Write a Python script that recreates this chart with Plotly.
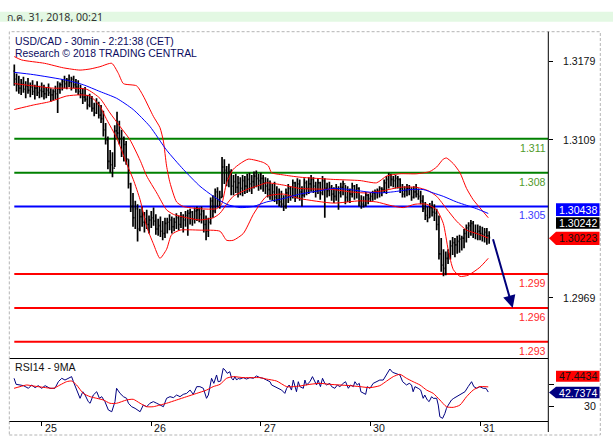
import plotly.graph_objects as go
from plotly.subplots import make_subplots

# ---------------- data ----------------
header_text = "ก.ค. 31, 2018, 00:21"
title_lines = ["USD/CAD - 30min - 2:21:38 (CET)", "Research © 2018 TRADING CENTRAL"]
rsi_title = "RSI14 - 9MA"

day_labels = ["25", "26", "27", "30", "31"]
bars_per_day = 48
first_bar = -12
first_open = 1.3170

highs = [
    1.3176, 1.3168, 1.3166, 1.3163, 1.3165, 1.3161, 1.3164, 1.3160, 1.3162, 1.3158, 1.3161, 1.3157,
    1.3160, 1.3158, 1.3156, 1.3159, 1.3155, 1.3154, 1.3157, 1.3161, 1.3160, 1.3163, 1.3166, 1.3164,
    1.3167, 1.3165, 1.3166, 1.3163, 1.3162, 1.3158, 1.3155, 1.3156, 1.3149, 1.3150, 1.3148, 1.3142,
    1.3146, 1.3143, 1.3140, 1.3135, 1.3124, 1.3112, 1.3100, 1.3098, 1.3122, 1.3134, 1.3126, 1.3118,
    1.3112, 1.3108, 1.3092, 1.3071, 1.3062, 1.3055, 1.3052, 1.3048, 1.3050, 1.3045, 1.3047, 1.3042,
    1.3046, 1.3049, 1.3043, 1.3039, 1.3041, 1.3037, 1.3040, 1.3040, 1.3043, 1.3041, 1.3040, 1.3044,
    1.3042, 1.3045, 1.3043, 1.3046, 1.3047, 1.3048, 1.3046, 1.3049, 1.3050, 1.3049, 1.3050, 1.3047,
    1.3042, 1.3040, 1.3058, 1.3060, 1.3066, 1.3067, 1.3064, 1.3094, 1.3092, 1.3086, 1.3088, 1.3083,
    1.3078, 1.3079, 1.3077, 1.3076, 1.3078, 1.3077, 1.3079, 1.3080, 1.3078, 1.3081, 1.3082, 1.3079,
    1.3080, 1.3078, 1.3076, 1.3075, 1.3073, 1.3070, 1.3072, 1.3068, 1.3066, 1.3064, 1.3060, 1.3066,
    1.3070, 1.3068, 1.3074, 1.3072, 1.3075, 1.3074, 1.3068, 1.3075, 1.3073, 1.3076, 1.3078, 1.3076,
    1.3072, 1.3075, 1.3072, 1.3077, 1.3075, 1.3071, 1.3072, 1.3069, 1.3067, 1.3070, 1.3068, 1.3071,
    1.3073, 1.3069, 1.3068, 1.3066, 1.3071, 1.3069, 1.3070, 1.3067, 1.3060, 1.3059, 1.3063, 1.3061,
    1.3062, 1.3064, 1.3065, 1.3066, 1.3068, 1.3067, 1.3074, 1.3077, 1.3080, 1.3079, 1.3077, 1.3078,
    1.3077, 1.3075, 1.3070, 1.3068, 1.3070, 1.3069, 1.3067, 1.3068, 1.3070, 1.3066, 1.3064, 1.3060,
    1.3054, 1.3050, 1.3053, 1.3055, 1.3052, 1.3048, 1.3042, 1.3022, 1.3012, 1.3010, 1.3012, 1.3020,
    1.3023, 1.3022, 1.3024, 1.3025, 1.3024, 1.3030, 1.3034, 1.3036, 1.3038, 1.3037, 1.3034, 1.3034,
    1.3033, 1.3032, 1.3031, 1.3031, 1.3028,
]
lows = [
    1.3157, 1.3152, 1.3150, 1.3149, 1.3151, 1.3146, 1.3150, 1.3147, 1.3149, 1.3145, 1.3148, 1.3146,
    1.3147, 1.3145, 1.3146, 1.3148, 1.3143, 1.3144, 1.3145, 1.3133, 1.3150, 1.3153, 1.3155, 1.3154,
    1.3156, 1.3153, 1.3155, 1.3151, 1.3149, 1.3146, 1.3141, 1.3143, 1.3136, 1.3138, 1.3134, 1.3130,
    1.3132, 1.3128, 1.3124, 1.3112, 1.3105, 1.3083, 1.3080, 1.3076, 1.3085, 1.3110, 1.3105, 1.3094,
    1.3090, 1.3087, 1.3066, 1.3045, 1.3032, 1.3030, 1.3019, 1.3028, 1.3032, 1.3027, 1.3030, 1.3026,
    1.3031, 1.3033, 1.3025, 1.3024, 1.3023, 1.3020, 1.3022, 1.3026, 1.3029, 1.3026, 1.3028, 1.3030,
    1.3029, 1.3031, 1.3027, 1.3032, 1.3024, 1.3034, 1.3033, 1.3035, 1.3037, 1.3036, 1.3035, 1.3027,
    1.3020, 1.3023, 1.3034, 1.3040, 1.3044, 1.3049, 1.3048, 1.3058, 1.3070, 1.3068, 1.3067, 1.3060,
    1.3060, 1.3062, 1.3058, 1.3060, 1.3059, 1.3061, 1.3062, 1.3063, 1.3061, 1.3066, 1.3067, 1.3064,
    1.3065, 1.3063, 1.3061, 1.3058, 1.3056, 1.3055, 1.3054, 1.3052, 1.3050, 1.3049, 1.3046, 1.3048,
    1.3053, 1.3055, 1.3057, 1.3054, 1.3057, 1.3055, 1.3050, 1.3058, 1.3060, 1.3061, 1.3063, 1.3062,
    1.3058, 1.3061, 1.3056, 1.3060, 1.3040, 1.3058, 1.3059, 1.3055, 1.3053, 1.3055, 1.3047, 1.3058,
    1.3060, 1.3052, 1.3054, 1.3053, 1.3058, 1.3056, 1.3057, 1.3050, 1.3048, 1.3049, 1.3050, 1.3052,
    1.3054, 1.3055, 1.3056, 1.3057, 1.3058, 1.3059, 1.3062, 1.3061, 1.3066, 1.3068, 1.3067, 1.3066,
    1.3066, 1.3062, 1.3058, 1.3058, 1.3059, 1.3060, 1.3055, 1.3057, 1.3058, 1.3056, 1.3052, 1.3045,
    1.3038, 1.3036, 1.3040, 1.3041, 1.3037, 1.3029, 1.3003, 1.2992, 1.2988, 1.2989, 1.2999, 1.3003,
    1.3007, 1.3005, 1.3008, 1.3009, 1.3011, 1.3013, 1.3018, 1.3022, 1.3024, 1.3022, 1.3021, 1.3020,
    1.3020, 1.3019, 1.3018, 1.3016, 1.3017,
]
closes = [
    1.3163, 1.3158, 1.3155, 1.3159, 1.3154, 1.3157, 1.3153, 1.3156, 1.3152, 1.3155, 1.3151, 1.3153,
    1.3152, 1.3150, 1.3153, 1.3151, 1.3149, 1.3152, 1.3150, 1.3154, 1.3158, 1.3161, 1.3159, 1.3162,
    1.3160, 1.3163, 1.3158, 1.3156, 1.3152, 1.3150, 1.3147, 1.3145, 1.3140, 1.3146, 1.3137, 1.3133,
    1.3141, 1.3131, 1.3128, 1.3118, 1.3109, 1.3090, 1.3087, 1.3084, 1.3117, 1.3115, 1.3110, 1.3099,
    1.3105, 1.3092, 1.3070, 1.3050, 1.3040, 1.3048, 1.3030, 1.3041, 1.3036, 1.3039, 1.3034, 1.3038,
    1.3040, 1.3037, 1.3030, 1.3033, 1.3028, 1.3026, 1.3035, 1.3036, 1.3038, 1.3032, 1.3036, 1.3040,
    1.3034, 1.3041, 1.3038, 1.3042, 1.3044, 1.3045, 1.3039, 1.3046, 1.3047, 1.3043, 1.3046, 1.3034,
    1.3028, 1.3036, 1.3055, 1.3046, 1.3063, 1.3055, 1.3058, 1.3085, 1.3082, 1.3075, 1.3081, 1.3068,
    1.3072, 1.3067, 1.3071, 1.3066, 1.3073, 1.3068, 1.3074, 1.3070, 1.3072, 1.3077, 1.3075, 1.3073,
    1.3075, 1.3071, 1.3068, 1.3065, 1.3060, 1.3063, 1.3058, 1.3056, 1.3054, 1.3052, 1.3050, 1.3062,
    1.3066, 1.3059, 1.3071, 1.3058, 1.3070, 1.3063, 1.3060, 1.3071, 1.3066, 1.3070, 1.3074, 1.3068,
    1.3064, 1.3071, 1.3062, 1.3073, 1.3066, 1.3064, 1.3067, 1.3061, 1.3059, 1.3065, 1.3062, 1.3067,
    1.3070, 1.3058, 1.3064, 1.3061, 1.3068, 1.3064, 1.3066, 1.3055, 1.3052, 1.3051, 1.3060, 1.3057,
    1.3059, 1.3062, 1.3063, 1.3064, 1.3066, 1.3065, 1.3071, 1.3074, 1.3078, 1.3074, 1.3073, 1.3075,
    1.3074, 1.3066, 1.3061, 1.3064, 1.3066, 1.3065, 1.3058, 1.3063, 1.3061, 1.3059, 1.3055, 1.3048,
    1.3042, 1.3040, 1.3049, 1.3045, 1.3044, 1.3034, 1.3008, 1.2998, 1.2995, 1.3004, 1.3008, 1.3015,
    1.3018, 1.3016, 1.3019, 1.3021, 1.3022, 1.3026, 1.3031, 1.3033, 1.3035, 1.3027, 1.3026, 1.3028,
    1.3026, 1.3025, 1.3027, 1.3024, 1.30223,
]

# Bollinger bands and moving average, read as (bar, price) vertices
bb_upper = [(-12, 1.3183), (-8.8, 1.3180), (1.3, 1.3177), (9.5, 1.3173), (16.8, 1.3171), (21.2, 1.3172),
            (25.5, 1.3174), (30.7, 1.3177), (33.6, 1.3168), (35.8, 1.3159), (41.6, 1.3157), (44.5, 1.3148),
            (48.9, 1.3130), (51.8, 1.3120), (53.3, 1.3108), (54.7, 1.3086), (56.2, 1.3071), (59.1, 1.3054),
            (62.0, 1.3050), (69.3, 1.3048), (76.6, 1.3048), (78.8, 1.3052), (81.0, 1.3071), (83.9, 1.3083),
            (86.9, 1.3088), (90.5, 1.3092), (97.1, 1.3089), (99.3, 1.3086), (100.7, 1.3080), (105.8, 1.3078),
            (113.1, 1.3076), (127.7, 1.3074), (139.4, 1.3073), (146.7, 1.3071), (151.1, 1.3077),
            (156.9, 1.3079), (164.2, 1.3079), (170.0, 1.3081), (173.0, 1.3085), (175.9, 1.3092),
            (177.3, 1.3093), (180.3, 1.3088), (183.2, 1.3080), (186.1, 1.3066), (189.0, 1.3056),
            (192.7, 1.3047), (195.6, 1.3040)]
bb_middle = [(-12, 1.3159), (-3.7, 1.3157), (5.1, 1.3155), (12.4, 1.3155), (19.7, 1.3154), (25.5, 1.3146),
             (29.9, 1.3133), (34.3, 1.3121), (38.7, 1.3109), (43.1, 1.3091), (46.0, 1.3077), (50.4, 1.3062),
             (54.7, 1.3047), (57.7, 1.3043), (63.5, 1.3040), (69.3, 1.3038), (75.2, 1.3040), (78.1, 1.3044),
             (81.0, 1.3052), (83.9, 1.3059), (89.8, 1.3065), (95.6, 1.3069), (98.5, 1.3071), (105.8, 1.3069),
             (113.1, 1.3066), (127.7, 1.3065), (135.0, 1.3063), (142.3, 1.3062), (149.6, 1.3064),
             (156.9, 1.3067), (164.2, 1.3067), (169.3, 1.3064), (173.0, 1.3059), (177.3, 1.3048),
             (181.7, 1.3037), (186.1, 1.3029), (190.5, 1.3026), (195.6, 1.3022)]
bb_lower = [(-12, 1.3136), (-3.7, 1.3140), (3.6, 1.3143), (10.9, 1.3148), (16.8, 1.3149), (21.2, 1.3148),
            (25.5, 1.3139), (28.5, 1.3127), (32.8, 1.3111), (37.2, 1.3088), (40.1, 1.3074), (43.1, 1.3056),
            (46.0, 1.3032), (48.9, 1.3017), (51.8, 1.3004), (54.7, 1.3012), (56.9, 1.3025), (60.6, 1.3029),
            (69.3, 1.3029), (78.1, 1.3028), (81.0, 1.3020), (83.9, 1.3020), (88.3, 1.3026), (92.7, 1.3043),
            (95.6, 1.3052), (98.5, 1.3059), (105.8, 1.3061), (113.1, 1.3057), (127.7, 1.3053),
            (139.4, 1.3055), (146.7, 1.3054), (152.5, 1.3051), (158.4, 1.3049), (163.5, 1.3052),
            (168.6, 1.3052), (173.0, 1.3047), (175.9, 1.3035), (178.1, 1.3011), (180.3, 1.2994),
            (183.2, 1.2988), (186.8, 1.2989), (191.9, 1.2996), (195.6, 1.3004)]
ma_blue = [(-12, 1.3169), (-3.7, 1.3167), (10.9, 1.3162), (18.2, 1.3158), (25.5, 1.3152), (32.8, 1.3146),
           (40.1, 1.3136), (47.4, 1.3121), (54.7, 1.3100), (62.0, 1.3083), (69.3, 1.3068), (75.2, 1.3059),
           (81.0, 1.3052), (86.9, 1.3049), (92.7, 1.3050), (98.5, 1.3054), (105.8, 1.3057), (113.1, 1.3061),
           (121.9, 1.3064), (127.7, 1.3066), (135.0, 1.3065), (142.3, 1.3063), (148.1, 1.3062),
           (154.0, 1.3063), (161.3, 1.3065), (167.1, 1.3065), (171.5, 1.3062), (175.9, 1.3059),
           (181.7, 1.3054), (186.1, 1.3051), (190.5, 1.3048), (195.6, 1.30438)]

# RSI(14) and its 9-period MA, (bar, value)
rsi14 = [(-12.1, 55.2), (-11.2, 49.7), (-9.5, 49.1), (-8.0, 48.5), (-5.8, 46.1), (-4.4, 49.1), (-2.9, 46.7),
         (-1.5, 48.5), (0, 46.1), (1.5, 48.5), (3.6, 46.1), (5.8, 46.1), (7.3, 52.1), (8.8, 55.2), (10.2, 53.6),
         (11.7, 55.2), (13.1, 56.7), (13.9, 52.1), (15.3, 44.5), (16.8, 37.0), (18.0, 43.0), (19.0, 40.0),
         (20.4, 34.0), (21.2, 32.5), (22.6, 40.0), (24.1, 43.0), (25.3, 37.0), (26.3, 38.5), (27.7, 34.0),
         (29.2, 26.4), (30.7, 24.8), (32.1, 34.0), (32.8, 46.1), (34.3, 41.5), (35.8, 38.5), (37.2, 37.0),
         (38.0, 32.5), (39.4, 29.4), (40.9, 27.9), (42.3, 26.4), (43.1, 24.8), (44.5, 30.9), (46.0, 29.4),
         (47.4, 32.5), (48.9, 34.0), (50.4, 32.5), (51.8, 30.9), (53.3, 29.4), (54.7, 37.0), (56.2, 38.5),
         (57.7, 37.6), (59.1, 40.0), (60.6, 38.5), (62.0, 40.6), (63.5, 41.5), (65.0, 44.5), (66.4, 40.6),
         (67.9, 47.6), (69.3, 47.6), (70.8, 46.1), (72.2, 37.0), (73.0, 40.0), (74.4, 55.2), (75.4, 50.6),
         (76.6, 58.2), (77.3, 52.1), (78.4, 52.7), (79.5, 64.2), (80.3, 62.7), (81.3, 59.7), (82.4, 61.2),
         (83.2, 55.2), (83.9, 53.6), (84.6, 56.7), (85.4, 53.6), (86.1, 55.2), (86.8, 54.5), (88.3, 55.8),
         (89.7, 54.5), (91.2, 55.8), (92.7, 55.2), (94.1, 57.3), (95.6, 55.8), (97.0, 55.2), (98.5, 53.6),
         (100.0, 52.1), (100.7, 49.1), (102.1, 47.6), (103.6, 46.1), (105.1, 44.5), (106.5, 41.5),
         (107.3, 46.1), (108.4, 49.1), (109.4, 44.5), (110.2, 53.6), (110.9, 47.6), (111.6, 43.0),
         (112.4, 52.1), (113.1, 47.6), (114.6, 46.1), (115.3, 53.6), (116.0, 49.1), (117.5, 52.1),
         (118.6, 56.7), (119.7, 52.1), (120.4, 49.1), (121.1, 53.6), (122.1, 47.6), (123.0, 55.2),
         (124.0, 50.6), (124.8, 49.1), (126.2, 50.6), (127.0, 47.6), (128.4, 46.1), (129.5, 49.1),
         (130.6, 47.6), (132.1, 50.6), (133.1, 52.1), (134.3, 46.1), (135.3, 49.1), (136.5, 47.6),
         (137.2, 52.1), (138.2, 49.1), (139.1, 50.6), (139.8, 43.0), (140.8, 41.5), (141.9, 40.6),
         (142.6, 47.6), (143.8, 46.1), (145.2, 50.6), (146.7, 52.1), (148.1, 53.6), (149.6, 53.6),
         (150.8, 58.2), (151.8, 61.2), (152.5, 63.6), (153.7, 60.6), (155.4, 59.7), (156.9, 58.2),
         (158.1, 52.1), (159.1, 50.6), (159.8, 49.1), (161.0, 50.6), (162.0, 49.1), (162.7, 43.0),
         (163.5, 47.6), (164.9, 46.1), (166.0, 44.5), (167.1, 37.0), (167.8, 40.0), (168.9, 35.5),
         (169.7, 34.0), (170.8, 38.5), (171.5, 37.0), (173.0, 37.0), (173.7, 30.9), (174.4, 20.3),
         (175.6, 18.8), (176.6, 23.3), (177.3, 27.9), (178.1, 30.9), (178.8, 34.0), (179.5, 35.5),
         (180.5, 37.0), (181.7, 38.5), (182.9, 40.0), (183.9, 40.6), (185.4, 43.0), (186.8, 47.6),
         (188.3, 52.1), (189.3, 47.6), (190.5, 46.1), (191.9, 47.6), (193.4, 46.1), (194.6, 46.1),
         (195.6, 42.7)]
rsi_ma9 = [(-12.1, 46.1), (-9.5, 47.6), (-6.6, 49.1), (-3.7, 48.2), (0.7, 47.0), (5.1, 46.1), (8.0, 49.1),
           (10.9, 52.1), (13.1, 52.7), (15.3, 49.1), (18.2, 41.5), (21.2, 38.5), (24.1, 37.0), (27.0, 35.5),
           (29.9, 32.5), (32.8, 32.5), (37.2, 35.5), (40.1, 36.1), (43.1, 32.5), (46.0, 29.4), (48.9, 29.4),
           (51.8, 30.9), (54.7, 32.5), (59.1, 35.5), (63.5, 38.5), (67.9, 41.5), (72.2, 44.5), (75.1, 47.6),
           (78.1, 49.7), (81.0, 55.2), (83.9, 56.7), (88.3, 55.8), (92.7, 55.8), (95.6, 55.8), (98.5, 54.5),
           (102.9, 52.7), (107.3, 47.6), (110.2, 47.6), (113.1, 48.2), (117.5, 49.7), (121.9, 50.6),
           (126.2, 49.7), (130.6, 49.1), (135.0, 48.5), (139.4, 47.6), (143.8, 46.7), (148.1, 48.5),
           (151.1, 52.7), (154.0, 56.7), (156.9, 58.8), (159.8, 55.2), (162.7, 52.1), (165.7, 49.1),
           (168.6, 44.5), (171.5, 41.5), (174.4, 35.5), (177.3, 29.4), (180.3, 28.8), (183.2, 30.9),
           (186.1, 38.5), (189.0, 44.5), (191.9, 47.6), (195.6, 47.4)]

resistance_levels = [1.311, 1.308]
pivot_level = 1.305
support_levels = [1.299, 1.296, 1.293]
target_level = 1.296
target_bar = 206.3

price_ticks = [1.2969, 1.3109, 1.3179]
price_tick_labels = ["1.2969", "1.3109", "1.3179"]
rsi_ticks = [30, 50]
rsi_tick_labels = ["30", ""]

last_ma_label = "1.30438"
last_bid_label = "1.30242"
last_price_label = "1.30223"
last_rsi_ma_label = "47.4434"
last_rsi_label = "42.7374"

# ---------------- geometry ----------------
W, H = 613, 444
ML, MR, MT, MB = 9, 65, 32, 23
PW, PH = W - ML - MR, H - MT - MB


def fx(px):
    return (px - ML) / PW


def fy(py):
    return (H - MB - py) / PH


rsi_frac = fy(359.3)
x_range = [-14.32, 221.77]
price_range = [1.29144, 1.32048]
rsi_range = [16.4, 72.45]
FONT = "Liberation Sans, Arial, sans-serif"
FS = 10.6
FS_TITLE = 10.4

bars = list(range(first_bar, first_bar + len(closes)))
opens = [first_open] + closes[:-1]
day_ticks = [i * bars_per_day for i in range(len(day_labels))]


def unzip(pairs):
    return [p[0] for p in pairs], [p[1] for p in pairs]


fig = make_subplots(rows=2, cols=1, shared_xaxes=True, vertical_spacing=0,
                    row_heights=[1 - rsi_frac, rsi_frac])

for band in (bb_upper, bb_middle, bb_lower):
    bx, by = unzip(band)
    fig.add_trace(go.Scatter(x=bx, y=by, mode="lines", line=dict(color="#ff0000", width=1, shape="spline", smoothing=0.6),
                             hoverinfo="skip"), row=1, col=1)
mx, my = unzip(ma_blue)
fig.add_trace(go.Scatter(x=mx, y=my, mode="lines", line=dict(color="#0000ff", width=1, shape="spline", smoothing=0.6),
                         hoverinfo="skip"), row=1, col=1)
fig.add_trace(go.Ohlc(x=bars, open=opens, high=highs, low=lows, close=closes,
                      increasing=dict(line=dict(color="black", width=1.7)),
                      decreasing=dict(line=dict(color="black", width=1.7)),
                      tickwidth=0.45, hoverinfo="skip"), row=1, col=1)

rx, ry = unzip(rsi14)
fig.add_trace(go.Scatter(x=rx, y=ry, mode="lines", line=dict(color="#000080", width=1), hoverinfo="skip"),
              row=2, col=1)
rmx, rmy = unzip(rsi_ma9)
fig.add_trace(go.Scatter(x=rmx, y=rmy, mode="lines", line=dict(color="#ff0000", width=1, shape="spline", smoothing=0.6),
                         hoverinfo="skip"), row=2, col=1)

fig.update_layout(width=W, height=H, margin=dict(l=ML, r=MR, t=MT, b=MB),
                  paper_bgcolor="white", plot_bgcolor="white", showlegend=False,
                  font=dict(family=FONT, size=FS, color="#111111"))
fig.update_xaxes(range=x_range, showgrid=False, zeroline=False, rangeslider_visible=False)
fig.update_xaxes(row=1, col=1, showticklabels=False, ticks="", showline=False)
fig.update_xaxes(row=2, col=1, tickvals=day_ticks, showticklabels=False, ticks="outside", ticklen=4,
                 tickcolor="black", showline=True, linecolor="black", linewidth=1, mirror=True)
fig.update_yaxes(row=1, col=1, side="right", range=price_range, tickvals=price_ticks, showticklabels=False,
                 ticks="outside", ticklen=4, tickcolor="black", showgrid=False, zeroline=False, showline=False)
fig.update_yaxes(row=2, col=1, side="right", range=rsi_range, tickvals=rsi_ticks, showticklabels=False,
                 ticks="outside", ticklen=5, tickcolor="black", showgrid=False, zeroline=False, showline=False)

# level lines and their labels
levels = [(lv, "#008000", "#4f9a2a") for lv in resistance_levels] + [(pivot_level, "#0000ff", "#3a3aff")] + \
         [(lv, "#ff0000", "#ff2a2a") for lv in support_levels]
for lv, lc, tc in levels:
    fig.add_shape(type="line", xref="x", yref="y", x0=bars[0], x1=x_range[1], y0=lv, y1=lv,
                  line=dict(color=lc, width=2), layer="below")
    fig.add_annotation(xref="paper", yref="y", x=fx(547.5), y=lv, xanchor="right", yanchor="top", yshift=-1,
                       text=f"{lv:.3f}", showarrow=False, font=dict(family=FONT, size=FS, color=tc))

# forecast arrow
fig.add_annotation(xref="x", yref="y", axref="x", ayref="y", x=target_bar, y=target_level,
                   ax=bars[-1] + 1.5, ay=closes[-1], text="", showarrow=True, arrowhead=2,
                   arrowsize=1.25, arrowwidth=2, arrowcolor="#00007a")

# header band, border and right axis line
fig.add_shape(type="rect", xref="paper", yref="paper", x0=fx(0), x1=fx(W), y0=fy(21.7), y1=fy(11.7),
              fillcolor="#e3f8e3", line=dict(width=0))
fig.add_shape(type="rect", xref="paper", yref="paper", x0=fx(9.3), x1=fx(600.3), y0=fy(435), y1=fy(31.7),
              line=dict(color="#b4b4b4", width=1, dash="3px,2px"))
fig.add_shape(type="line", xref="paper", yref="paper", x0=fx(548.3), x1=fx(548.3), y0=fy(432), y1=fy(31.7),
              line=dict(color="black", width=1))

fig.add_annotation(xref="paper", yref="paper", x=fx(5), y=fy(16.7), xanchor="left", yanchor="middle",
                   text=header_text, showarrow=False,
                   font=dict(family="Noto Sans, Liberation Sans, sans-serif", size=FS, color="#333333"))
for i, t in enumerate(title_lines):
    fig.add_annotation(xref="paper", yref="paper", x=fx(13), y=fy(41 + 12.3 * i), xanchor="left",
                       yanchor="middle", text=t, showarrow=False,
                       font=dict(family=FONT, size=FS_TITLE, color="#0b0b60"))
fig.add_annotation(xref="paper", yref="paper", x=fx(13), y=fy(367.3), xanchor="left", yanchor="middle",
                   text=rsi_title, showarrow=False, font=dict(family=FONT, size=FS, color="#111111"))

# axis labels
for v, t in zip(price_ticks, price_tick_labels):
    fig.add_annotation(xref="paper", yref="y", x=fx(597.5), y=v, xanchor="right", yanchor="middle",
                       text=t, showarrow=False, font=dict(family=FONT, size=FS, color="#111111"))
for v, t in zip(rsi_ticks, rsi_tick_labels):
    if t:
        fig.add_annotation(xref="paper", yref="y2", x=fx(597.5), y=v, xanchor="right", yanchor="middle",
                           text=t, showarrow=False, font=dict(family=FONT, size=FS, color="#111111"))
for v, t in zip(day_ticks, day_labels):
    fig.add_annotation(xref="x2", yref="paper", x=v, y=fy(427.7), xanchor="left", yanchor="middle", xshift=1,
                       text=t, showarrow=False, font=dict(family=FONT, size=FS, color="#111111"))


# value boxes on the right
def box(y_top, y_bot, color, text, tcolor, pointer=False):
    if pointer:
        ym = (y_top + y_bot) / 2
        path = (f"M {fx(549)},{fy(ym)} L {fx(556)},{fy(y_top)} L {fx(599.5)},{fy(y_top)} "
                f"L {fx(599.5)},{fy(y_bot)} L {fx(556)},{fy(y_bot)} Z")
        fig.add_shape(type="path", xref="paper", yref="paper", path=path, fillcolor=color, line=dict(width=0))
    else:
        fig.add_shape(type="rect", xref="paper", yref="paper", x0=fx(556), x1=fx(599.5), y0=fy(y_bot),
                      y1=fy(y_top), fillcolor=color, line=dict(width=0))
    fig.add_annotation(xref="paper", yref="paper", x=fx(598.8), y=fy((y_top + y_bot) / 2), xanchor="right",
                       yanchor="middle", text=text, showarrow=False, font=dict(family=FONT, size=FS, color=tcolor))


box(203.3, 216.0, "#0000ff", last_ma_label, "white")
box(217.3, 228.7, "#000000", last_bid_label, "white")
box(231.7, 245.0, "#ff0000", last_price_label, "#111111", pointer=True)
box(370.7, 381.7, "#ff0000", last_rsi_ma_label, "#111111")
box(386.7, 398.3, "#000080", last_rsi_label, "white", pointer=True)

fig.write_html("out.html", config={"displayModeBar": False, "staticPlot": True},
               post_script="document.body.style.margin='0px';document.body.style.overflow='hidden';")
